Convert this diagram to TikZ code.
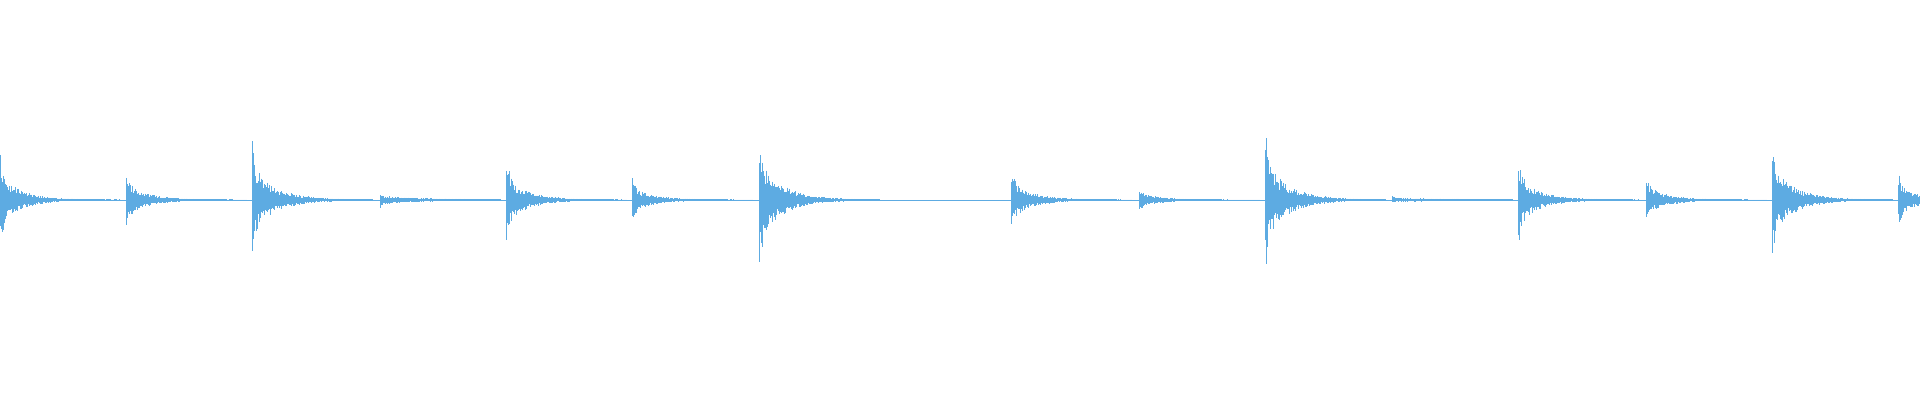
\documentclass[tikz,border=0pt]{standalone}
\definecolor{wave}{RGB}{93,171,226}
\begin{document}
\begin{tikzpicture}[x=0.5pt,y=0.5pt,wv/.style={draw=wave,line width=0.4pt}]
\pgfmathsetseed{7}
\useasboundingbox (0,0) rectangle (1920,400);
\draw[wave,line width=0.35pt] (0,200) -- (1920,200);
\foreach \p/\a/\d in {0/40/22,126/26/22,252/54/24,380/6/50,506/38/22,632/20/22,759/64/24,1011/30/22,1139/11/22,1265/64/24,1392/3/70,1518/40/22,1646/22/22,1772/52/24,1898/24/22}{
  \foreach \i in {0,1,...,120}{
    \pgfmathsetmacro{\e}{\a*(0.6*exp(-\i/\d)+0.6*exp(-\i/3))}
    \pgfmathsetmacro{\h}{\e*(0.45+0.55*rnd)+0.4}
    \pgfmathsetmacro{\k}{\e*(0.45+0.55*rnd)+0.4}
    \draw[wv] (\p+\i,200+\h) -- (\p+\i,200-\k);
  }
}
\end{tikzpicture}
\end{document}
